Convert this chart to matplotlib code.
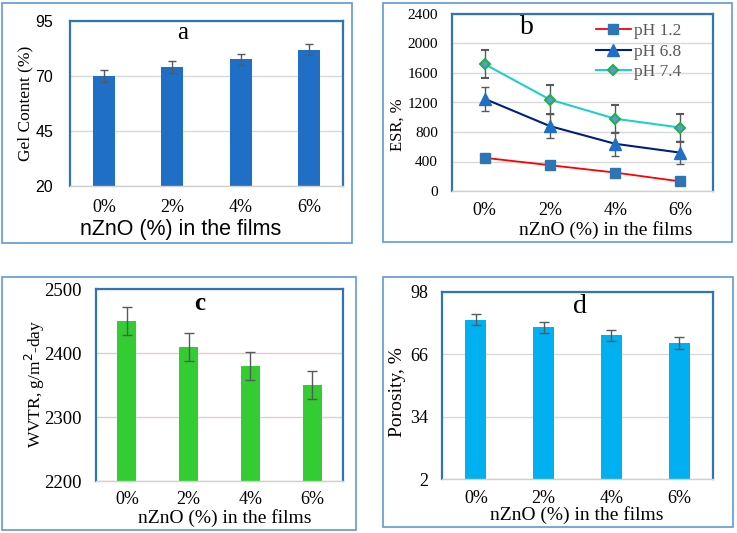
import matplotlib
matplotlib.use("Agg")
import matplotlib.pyplot as plt
from matplotlib.patches import Rectangle
from matplotlib.lines import Line2D
import numpy as np

categories = ["0%", "2%", "4%", "6%"]

gel_content = [70, 74, 77.6, 82]
gel_err = [2.6, 2.6, 2.6, 2.6]

esr_ph12 = [450, 350, 250, 130]
esr_ph12_err = [50, 50, 50, 50]
esr_ph68 = [1250, 880, 640, 520]
esr_ph68_err = [160, 165, 160, 160]
esr_ph74 = [1720, 1240, 980, 860]
esr_ph74_err = [190, 195, 190, 190]

wvtr = [2450, 2410, 2380, 2350]
wvtr_err = [22, 22, 22, 22]

porosity = [83.8, 79.9, 75.8, 71.8]
porosity_err = [2.9, 2.9, 2.9, 2.9]

W, H = 737, 533
fig = plt.figure(figsize=(W / 100, H / 100), dpi=100)

SERIF = ["Liberation Serif", "DejaVu Serif"]
SANS = ["Liberation Sans", "DejaVu Sans"]
FRAME = "#5b9bd5"
AXBLUE = "#2e75b6"
GRID = "#d9d9d9"
ERRC = "#595959"


def fx(px):
    return px / W


def fy(py):
    return 1 - py / H


def frame(x0, y0, x1, y1):
    fig.patches.append(Rectangle((fx(x0), fy(y1)), (x1 - x0) / W, (y1 - y0) / H,
                                 transform=fig.transFigure, fill=False,
                                 edgecolor=FRAME, lw=1.2))


def mkax(x0, y0, x1, y1):
    ax = fig.add_axes([fx(x0), fy(y1), (x1 - x0) / W, (y1 - y0) / H])
    for s in ["left", "top", "right"]:
        ax.spines[s].set_color(AXBLUE)
        ax.spines[s].set_linewidth(1.6)
    ax.spines["bottom"].set_color("#d0d0d0")
    ax.spines["bottom"].set_linewidth(1.0)
    ax.tick_params(length=0)
    ax.yaxis.grid(True, color=GRID, lw=1.0)
    ax.set_axisbelow(True)
    ax.set_xlim(-0.5, 3.5)
    return ax


def labels(ax, xlab, xc, yc, xfam, xsize, ylab, yxc, yyc, yfam, ysize):
    ax.set_xlabel(xlab, family=xfam, fontsize=xsize)
    ax.xaxis.set_label_coords(fx(xc), fy(yc), transform=fig.transFigure)
    ax.xaxis.label.set_va("center")
    ax.set_ylabel(ylab, family=yfam, fontsize=ysize)
    ax.yaxis.set_label_coords(fx(yxc), fy(yyc), transform=fig.transFigure)
    ax.yaxis.label.set_va("center")


x = np.arange(len(categories))

# Panel a
frame(2, 3, 352, 243)
ax = mkax(70, 21, 343, 186)
ax.bar(x, gel_content, width=0.32, color="#1f6fc6")
ax.errorbar(x, gel_content, yerr=gel_err, fmt="none", ecolor=ERRC, capsize=3, lw=1)
ax.set_ylim(20, 95)
ax.set_yticks([20, 45, 70, 95])
ax.set_xticks(x)
ax.set_xticklabels(categories, family=SERIF, fontsize=13)
for t in ax.get_yticklabels():
    t.set_family(SANS); t.set_fontsize(11.5)
ax.tick_params(axis="y", pad=12)
ax.tick_params(axis="x", pad=9)
labels(ax, "nZnO (%) in the films", 181, 229, SANS, 15.5,
       "Gel Content (%)", 25, 103, SERIF, 12.5)
ax.text(0.414, 0.93, "a", transform=ax.transAxes, ha="center", va="center",
        family=SERIF, fontsize=18)

# Panel b
frame(383, 3, 732, 242)
ax = mkax(452, 14, 713, 191)
st12 = dict(color="#ff0000", lw=1.3, marker="s", ms=6.5, mfc="#2e75b6", mec="#2e75b6")
st68 = dict(color="#002080", lw=1.5, marker="^", ms=8.5, mfc="#1f6fc6", mec="#1f6fc6")
st74 = dict(color="#1fcfcf", lw=1.5, marker="D", ms=5.5, mfc="#5b9bd5", mec="#22b14c", mew=1.5)
ax.errorbar(x, esr_ph12, yerr=esr_ph12_err, ecolor=ERRC, capsize=3, elinewidth=1, **st12)
ax.errorbar(x, esr_ph68, yerr=esr_ph68_err, ecolor=ERRC, capsize=3, elinewidth=1, **st68)
ax.errorbar(x, esr_ph74, yerr=esr_ph74_err, ecolor=ERRC, capsize=3, elinewidth=1, **st74)
ax.set_ylim(0, 2400)
ax.set_yticks(range(0, 2401, 400))
ax.set_xticks(x)
ax.set_xticklabels(categories, family=SERIF, fontsize=13)
for t in ax.get_yticklabels():
    t.set_family(SERIF); t.set_fontsize(11)
ax.tick_params(axis="y", pad=10)
ax.tick_params(axis="x", pad=8)
labels(ax, "nZnO (%) in the films", 606, 230, SERIF, 14,
       "ESR, %", 398, 125, SERIF, 12)
ax.text(0.287, 0.925, "b", transform=ax.transAxes, ha="center", va="center",
        family=SERIF, fontsize=20)
handles = [Line2D([], [], **st12), Line2D([], [], **st68), Line2D([], [], **st74)]
ax.legend(handles, ["pH 1.2", "pH 6.8", "pH 7.4"], loc="upper left",
          bbox_to_anchor=(fx(596), fy(23)), bbox_transform=fig.transFigure,
          frameon=False, prop={"family": SERIF, "size": 12.5}, labelcolor="#595959",
          handlelength=2.0, handletextpad=0.2, labelspacing=0.25,
          borderaxespad=0, borderpad=0)

# Panel c
frame(2, 277, 356, 530)
ax = mkax(96, 289, 343, 481)
ax.bar(x, wvtr, width=0.31, color="#33cc33")
ax.errorbar(x, wvtr, yerr=wvtr_err, fmt="none", ecolor=ERRC, capsize=3.5, lw=1)
ax.set_ylim(2200, 2500)
ax.set_yticks([2200, 2300, 2400, 2500])
ax.yaxis.grid(True, color="#e6cccc", lw=1.0)
ax.set_xticks(x)
ax.set_xticklabels(categories, family=SERIF, fontsize=13)
for t in ax.get_yticklabels():
    t.set_family(SERIF); t.set_fontsize(13.5)
ax.tick_params(axis="y", pad=10)
ax.tick_params(axis="x", pad=7)
labels(ax, "nZnO (%) in the films", 225, 518, SERIF, 14,
       "WVTR, g/m$^2$-day", 35, 384, SERIF, 12.5)
ax.text(0.42, 0.922, "c", transform=ax.transAxes, ha="center", va="center",
        family=SERIF, fontsize=18, fontweight="bold")

# Panel d
frame(383, 277, 733, 527)
ax = mkax(442, 292, 713, 479)
ax.bar(x, porosity, width=0.31, color="#00b0f0")
ax.errorbar(x, porosity, yerr=porosity_err, fmt="none", ecolor=ERRC, capsize=3.5, lw=1)
ax.set_ylim(2, 98)
ax.set_yticks([2, 34, 66, 98])
ax.set_xticks(x)
ax.set_xticklabels(categories, family=SERIF, fontsize=13)
for t in ax.get_yticklabels():
    t.set_family(SERIF); t.set_fontsize(13)
ax.tick_params(axis="y", pad=10)
ax.tick_params(axis="x", pad=8)
labels(ax, "nZnO (%) in the films", 577, 515, SERIF, 14,
       "Porosity, %", 398, 392, SERIF, 14)
ax.text(0.51, 0.925, "d", transform=ax.transAxes, ha="center", va="center",
        family=SERIF, fontsize=20)

fig.savefig("out.png", dpi=100)
